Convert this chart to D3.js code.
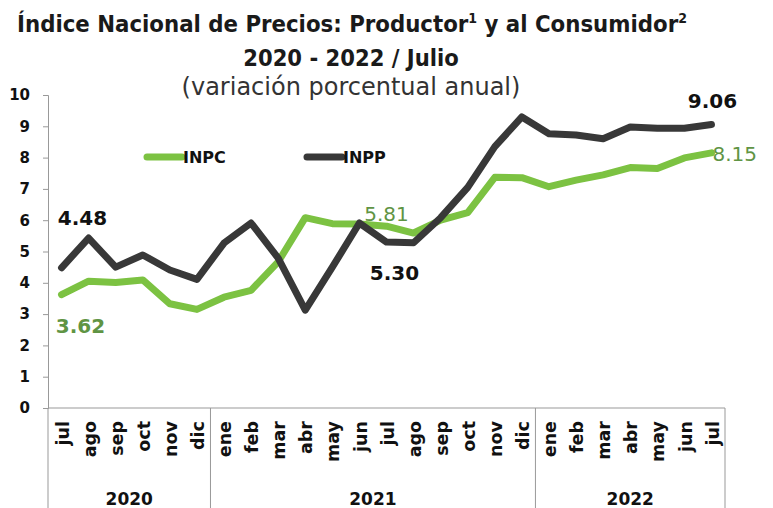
<!DOCTYPE html>
<html>
<head>
<meta charset="utf-8">
<script src="https://cdn.jsdelivr.net/npm/d3@7"></script>
<style>
  body { margin: 0; background: #fff; }
  text { font-family: "DejaVu Sans", sans-serif; }
</style>
</head>
<body>
<div id="canvas"></div>
<script>
// -------------------------------------------- Data
const months = ["jul", "ago", "sep", "oct", "nov", "dic",
  "ene", "feb", "mar", "abr", "may", "jun", "jul", "ago", "sep", "oct", "nov", "dic",
  "ene", "feb", "mar", "abr", "may", "jun", "jul"];
const years = ["2020", "2021", "2022"];
const yearSpans = [6, 12, 7];
const inpc = [3.62, 4.05, 4.01, 4.09, 3.33, 3.15,
  3.54, 3.76, 4.67, 6.08, 5.89, 5.88, 5.81, 5.59, 6.00, 6.24, 7.37, 7.36,
  7.07, 7.28, 7.45, 7.68, 7.65, 7.99, 8.15];
const inpp = [4.48, 5.43, 4.50, 4.89, 4.41, 4.11,
  5.27, 5.91, 4.79, 3.13, 4.50, 5.91, 5.30, 5.28, 6.08, 7.05, 8.35, 9.30,
  8.76, 8.72, 8.60, 8.98, 8.94, 8.94, 9.06];
const yTicks = [0, 1, 2, 3, 4, 5, 6, 7, 8, 9, 10];

// -------------------------------------------- Lienzo
const width = 773;
const height = 508;
const green = "#7cc242";
const dark = "#383838";
const greenText = "#5f9444";
const condensed = "'DejaVu Sans Condensed', 'DejaVu Sans', sans-serif";

const svg = d3.select("#canvas").append("svg")
  .attr("width", width)
  .attr("height", height);

// ----- Titulos
svg.append("text")
  .attr("x", 352).attr("y", 32)
  .attr("text-anchor", "middle")
  .style("font-family", condensed)
  .style("font-weight", "bold").style("font-size", "23.7px").attr("fill", "#1a1a1a")
  .html('Índice Nacional de Precios: Productor<tspan dy="-9" font-size="14px">1</tspan><tspan dy="9"> y al Consumidor</tspan><tspan dy="-9" font-size="14px">2</tspan>');

svg.append("text")
  .attr("x", 351).attr("y", 66)
  .attr("text-anchor", "middle")
  .style("font-family", condensed)
  .style("font-weight", "bold").style("font-size", "23.5px").attr("fill", "#1a1a1a")
  .text("2020 - 2022 / Julio");

svg.append("text")
  .attr("x", 351).attr("y", 95)
  .attr("text-anchor", "middle")
  .style("font-size", "24px").attr("fill", "#333")
  .text("(variación porcentual anual)");

// -------------------------------------------- Escalas
const x = d3.scaleBand().domain(d3.range(months.length)).range([48, 725]);
const y = d3.scaleLinear().domain([0, 10]).range([408, 95]);
const cx = (i) => x(i) + x.bandwidth() / 2;

// -- Eje Y
const yAxis = svg.append("g")
  .attr("transform", "translate(48,0)")
  .call(d3.axisLeft(y).tickValues(yTicks).tickSize(5).tickPadding(13));
yAxis.select(".domain").attr("stroke", "#999");
yAxis.selectAll(".tick line").attr("stroke", "#999");
yAxis.selectAll(".tick text")
  .style("font-size", "15px").style("font-weight", "bold").attr("fill", "#111")
  .style("font-family", "'DejaVu Sans', sans-serif");

// -- Eje X
svg.append("line")
  .attr("x1", 48).attr("x2", 725).attr("y1", 408).attr("y2", 408)
  .attr("stroke", "#999");

let start = 0;
const bounds = [0];
yearSpans.forEach((n) => { start += n; bounds.push(start); });
const edge = (b) => (b < months.length ? x(b) : x.range()[1]);

svg.selectAll(".divider").data(bounds).enter().append("line")
  .attr("class", "divider")
  .attr("x1", edge).attr("x2", edge)
  .attr("y1", 408).attr("y2", 508)
  .attr("stroke", "#999");

svg.selectAll(".month").data(months).enter().append("text")
  .attr("class", "month")
  .attr("transform", (d, i) => `translate(${cx(i) + 1},421) rotate(-90)`)
  .attr("text-anchor", "end")
  .attr("dy", "0.35em")
  .style("font-size", "17.5px").style("font-weight", "bold").attr("fill", "#111")
  .text((d) => d);

svg.selectAll(".year").data(years).enter().append("text")
  .attr("class", "year")
  .attr("x", (d, i) => (edge(bounds[i]) + edge(bounds[i + 1])) / 2)
  .attr("y", 505)
  .attr("text-anchor", "middle")
  .style("font-size", "17px").style("font-weight", "bold").attr("fill", "#111")
  .text((d) => d);

// -------------------------------------------- Lineas
const line = d3.line().x((d, i) => cx(i)).y((d) => y(d));

svg.append("path").datum(inpc)
  .attr("d", line).attr("fill", "none")
  .attr("stroke", green).attr("stroke-width", 7)
  .attr("stroke-linejoin", "round").attr("stroke-linecap", "round");

svg.append("path").datum(inpp)
  .attr("d", line).attr("fill", "none")
  .attr("stroke", dark).attr("stroke-width", 7)
  .attr("stroke-linejoin", "round").attr("stroke-linecap", "round");

// -- Leyenda
const legend = [
  { name: "INPC", color: green, x0: 147 },
  { name: "INPP", color: dark, x0: 307 },
];
legend.forEach((l) => {
  svg.append("line")
    .attr("x1", l.x0).attr("x2", l.x0 + 35).attr("y1", 157).attr("y2", 157)
    .attr("stroke", l.color).attr("stroke-width", 7).attr("stroke-linecap", "round");
  svg.append("text")
    .attr("x", l.x0 + 36).attr("y", 163)
    .style("font-size", "16px").style("font-weight", "bold").attr("fill", "#111")
    .text(l.name);
});

// -- Etiquetas de datos
const labels = [
  { s: inpp, i: 0, color: "#111", weight: "bold", dx: 21, dy: -43, anchor: "middle" },
  { s: inpc, i: 0, color: greenText, weight: "bold", dx: 19, dy: 38, anchor: "middle" },
  { s: inpc, i: 12, color: greenText, weight: "normal", dx: 0, dy: -5, anchor: "middle" },
  { s: inpp, i: 12, color: "#111", weight: "bold", dx: 8, dy: 38, anchor: "middle" },
  { s: inpp, i: 24, color: "#111", weight: "bold", dx: 1, dy: -16, anchor: "middle" },
  { s: inpc, i: 24, color: greenText, weight: "normal", dx: 1, dy: 8, anchor: "start" },
];
labels.forEach((l) => {
  svg.append("text")
    .attr("x", cx(l.i) + l.dx)
    .attr("y", y(l.s[l.i]) + l.dy)
    .attr("text-anchor", l.anchor)
    .style("font-size", "20px").style("font-weight", l.weight).attr("fill", l.color)
    .text(l.s[l.i].toFixed(2));
});
</script>
</body>
</html>
